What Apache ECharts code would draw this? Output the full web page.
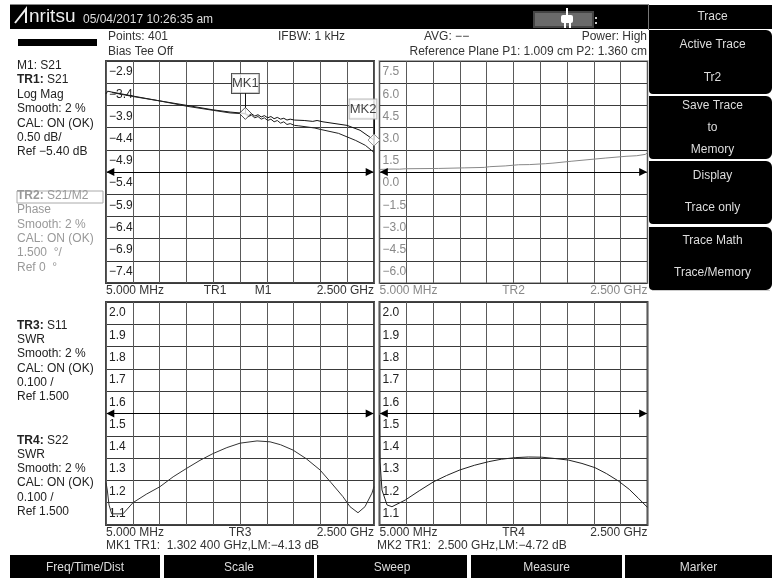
<!DOCTYPE html>
<html>
<head>
<meta charset="utf-8">
<title>Anritsu</title>
<style>
html,body{margin:0;padding:0;background:#fff;}
#chart{width:772px;height:578px;}
</style>
<script src="https://cdn.jsdelivr.net/npm/echarts@6/dist/echarts.min.js"></script>
</head>
<body>
<div id="chart"></div>
<script>
// frequency in GHz
const xTicks=[0.005,0.2545,0.504,0.7535,1.003,1.2525,1.502,1.7515,2.001,2.2505,2.5];

const yTicksTr1=[-2.9,-3.4,-3.9,-4.4,-4.9,-5.4,-5.9,-6.4,-6.9,-7.4,-7.9];
const yTicksTr2=[7.5,6,4.5,3,1.5,0,-1.5,-3,-4.5,-6,-7.5];
const yTicksSwr=[2,1.9,1.8,1.7,1.6,1.5,1.4,1.3,1.2,1.1,1];

const tr1Upper=[[0.005,-3.64],[0.02,-3.58],[0.06,-3.6],[0.256,-3.69],[0.508,-3.8],[0.759,-3.9],[1,-4],[1.16,-4.05],[1.3,-4.08],
    [1.33,-4.12],[1.36,-4.09],[1.39,-4.14],[1.42,-4.11],[1.45,-4.16],[1.48,-4.13],[1.51,-4.18],[1.54,-4.15],[1.57,-4.2],[1.6,-4.17],
    [1.63,-4.21],[1.66,-4.19],[1.69,-4.23],[1.72,-4.21],[1.76,-4.23],[1.85,-4.24],[1.93,-4.26],[1.97,-4.24],[2.025,-4.27],[2.249,-4.35],
    [2.37,-4.46],[2.5,-4.68]];
const tr1Lower=[[0.06,-3.61],[0.256,-3.7],[0.508,-3.8],[0.759,-3.92],[1,-4.01],[1.16,-4.07],[1.3,-4.09],
    [1.33,-4.15],[1.36,-4.12],[1.39,-4.18],[1.42,-4.15],[1.45,-4.21],[1.48,-4.18],[1.51,-4.24],[1.54,-4.21],[1.57,-4.27],[1.6,-4.24],
    [1.63,-4.3],[1.66,-4.27],[1.69,-4.33],[1.72,-4.31],[1.76,-4.35],[1.8,-4.36],[1.95,-4.41],[2,-4.44],[2.17,-4.53],[2.33,-4.69],
    [2.42,-4.8],[2.5,-4.96]];
const tr2Trace=[[0.005,0.17],[0.1,0.2],[0.19,0.19],[0.25,0.22],[0.556,0.24],[0.8,0.28],[0.98,0.31],[1.03,0.36],[1.175,0.41],[1.3,0.49],
    [1.4,0.5],[1.548,0.56],[1.62,0.6],[1.796,0.73],[2.106,0.94],[2.3,1.06],[2.4,1.1],[2.48,1.19],[2.5,1.3]];
const tr3Trace=[[0.005,1.19],[0.017,1.157],[0.033,1.09],[0.058,1.05],[0.163,1.05],[0.256,1.1],[0.38,1.138],[0.508,1.172],[0.63,1.216],[0.759,1.255],[0.88,1.29],[1,1.32],[1.13,1.347],[1.253,1.367],
    [1.411,1.377],[1.532,1.373],[1.63,1.36],[1.746,1.336],[1.87,1.297],[1.997,1.247],[2.1,1.19],[2.211,1.127],[2.277,1.082],[2.351,1.055],[2.416,1.082],[2.481,1.143],[2.5,1.172]];
const tr4Trace=[[0.005,1.493],[0.01,1.283],[0.028,1.157],[0.075,1.09],[0.121,1.082],[0.245,1.112],[0.38,1.155],[0.509,1.194],[0.63,1.222],[0.754,1.247],[0.89,1.268],[1.021,1.284],[1.14,1.295],[1.268,1.302],
    [1.39,1.305],[1.516,1.304],[1.64,1.298],[1.765,1.291],[1.89,1.276],[2.012,1.257],[2.12,1.23],[2.23,1.197],[2.33,1.16],[2.415,1.12],[2.5,1.079]];

const mk1Point=[1.3024,-4.08];
const mk2Point=[2.5,-4.68];
const mk1BoxBottom=-3.62;
const mk2BoxBottom=-4.19;
// the reference arrows sit just inside the plot
const arrowLeft=0.045;
const arrowRight=2.46;

const xLabelsTr1={0.005:'5.000 MHz',1.02:'TR1',1.467:'M1',2.5:'2.500 GHz'};
const xLabelsTr2={0.005:'5.000 MHz',1.2525:'TR2',2.5:'2.500 GHz'};
const xLabelsTr3={0.005:'5.000 MHz',1.2525:'TR3',2.5:'2.500 GHz'};
const xLabelsTr4={0.005:'5.000 MHz',1.2525:'TR4',2.5:'2.500 GHz'};

const linesTr1=['M1: S21','{b|TR1:} S21','Log Mag','Smooth: 2 %','CAL: ON (OK)','0.50 dB/','Ref −5.40 dB'];
const linesTr2=['{b|TR2:} S21/M2','Phase','Smooth: 2 %','CAL: ON (OK)','1.500  °/','Ref 0  °'];
const linesTr3=['{b|TR3:} S11','SWR','Smooth: 2 %','CAL: ON (OK)','0.100 /','Ref 1.500'];
const linesTr4=['{b|TR4:} S22','SWR','Smooth: 2 %','CAL: ON (OK)','0.100 /','Ref 1.500'];

const softKeys=[
    {y:30,h:64,lines:[['Active Trace',45],['Tr2',78]]},
    {y:96,h:63,lines:[['Save Trace',106],['to',128],['Memory',150]]},
    {y:161,h:63,lines:[['Display',176],['Trace only',208]]},
    {y:227,h:63,lines:[['Trace Math',241],['Trace/Memory',273]]}
];
const bottomKeys=[['Freq/Time/Dist',10,150],['Scale',164,150],['Sweep',317,150],['Measure',471,151],['Marker',625,147]];

const FONT='"Liberation Sans",Arial,sans-serif';

function txt(text,x,y,color,opt){
    return {
        type:'text',
        silent:true,
        style:Object.assign({
            text:text,x:x,y:y,fill:color,font:'12px '+FONT,
            verticalAlign:'middle',
            rich:{b:{fontWeight:'bold',fontSize:12,fontFamily:FONT,fill:color}}
        },opt||{})
    };
}
function rect(x,y,w,h,fill,r){
    return {type:'rect',silent:true,shape:{x:x,y:y,width:w,height:h,r:r||0},style:{fill:fill}};
}
function block(lines,ys,color){
    return lines.map((line,i)=>txt(line,17,ys[i],color));
}

const graphicItems=[];
graphicItems.push(rect(10,4,638,1,'#888'));
graphicItems.push(rect(10,5,638,24,'#000'));
graphicItems.push(rect(649,5,123,24,'#000'));
graphicItems.push(rect(648,4,1,26,'#777'));
// logo
graphicItems.push({type:'polyline',silent:true,shape:{points:[[15,23],[26,9],[26,23]]},style:{stroke:'#eee',fill:null,lineWidth:2}});
graphicItems.push(txt('nritsu',29,17,'#eee',{font:'19px '+FONT}));
graphicItems.push(txt('05/04/2017 10:26:35 am',83,20,'#ddd'));
// battery + plug
graphicItems.push({type:'rect',silent:true,shape:{x:534,y:12,width:59,height:15},style:{fill:'#6a6a6a',stroke:'#444',lineWidth:2}});
graphicItems.push(rect(566,8,2,8,'#fff'));
graphicItems.push(rect(561,15,12,8,'#fff',2));
graphicItems.push(rect(564,23,2,5,'#fff'));
graphicItems.push(rect(569,23,2,5,'#fff'));
graphicItems.push(rect(595,17,2,2,'#ccc'));
graphicItems.push(rect(595,22,2,2,'#ccc'));
// softkeys
graphicItems.push(txt('Trace',712.5,17,'#ddd',{align:'center'}));
softKeys.forEach(k=>{
    graphicItems.push(rect(649,k.y,123,k.h,'#000',[0,6,6,4]));
    k.lines.forEach(l=>graphicItems.push(txt(l[0],712.5,l[1],'#ddd',{align:'center'})));
});
graphicItems.push(rect(652,290,118,1,'#ccc'));
bottomKeys.forEach(k=>{
    graphicItems.push(rect(k[1],555,k[2],23,'#000'));
    graphicItems.push(txt(k[0],k[1]+k[2]/2,568,'#ddd',{align:'center'}));
});
// left side text
graphicItems.push(rect(18,39,79,7,'#000'));
graphicItems.push({type:'rect',silent:true,shape:{x:17,y:191,width:86,height:12},style:{fill:'#fff',stroke:'#aaa',lineWidth:1}});
graphicItems.push(...block(linesTr1,[66,80,95,109,124,138,152],'#222'));
graphicItems.push(...block(linesTr2,[196,210,225,239,253,268],'#999'));
graphicItems.push(...block(linesTr3,[326,340,354,369,383,397],'#222'));
graphicItems.push(...block(linesTr4,[441,455,469,483,498,512],'#222'));
// header and marker readout
graphicItems.push(txt('Points: 401',108,37,'#333'));
graphicItems.push(txt('Bias Tee Off',108,52,'#333'));
graphicItems.push(txt('IFBW: 1 kHz',278,37,'#333'));
graphicItems.push(txt('AVG: −−',424,37,'#333'));
graphicItems.push(txt('Power: High',647,37,'#333',{align:'right'}));
graphicItems.push(txt('Reference Plane P1: 1.009 cm P2: 1.360 cm',647,52,'#333',{align:'right'}));
graphicItems.push(txt('MK1 TR1:  1.302 400 GHz,LM:−4.13 dB',106,546,'#333'));
graphicItems.push(txt('MK2 TR1:  2.500 GHz,LM:−4.72 dB',377,546,'#333'));

// one panel = one grid, look differs only by colour
const panels=[
    {left:106,top:61,height:222,yTicks:yTicksTr1,ref:-5.4,frame:'#444',labelColor:'#222',xColor:'#333',xLabels:xLabelsTr1,digits:1},
    {left:379.5,top:61,height:222,yTicks:yTicksTr2,ref:0,frame:'#aaa',labelColor:'#888',xColor:'#888',xLabels:xLabelsTr2,digits:1},
    {left:106,top:302,height:223,yTicks:yTicksSwr,ref:1.5,frame:'#444',labelColor:'#222',xColor:'#333',xLabels:xLabelsTr3,digits:1},
    {left:379.5,top:302,height:223,yTicks:yTicksSwr,ref:1.5,frame:'#444',labelColor:'#222',xColor:'#333',xLabels:xLabelsTr4,digits:1}
];

const grid=panels.map(p=>({
    left:p.left,top:p.top,width:268,height:p.height,
    show:true,backgroundColor:'#fff',borderColor:p.frame,borderWidth:2
}));
const xAxis=panels.map((p,i)=>({
    type:'value',gridIndex:i,min:0.005,max:2.5,
    axisLine:{show:false},
    axisTick:{show:false,customValues:xTicks},
    splitLine:{show:true,lineStyle:{color:'#5a5a5a',width:1}},
    axisLabel:{
        customValues:Object.keys(p.xLabels).map(Number),
        formatter:v=>p.xLabels[v]||'',
        color:p.xColor,fontSize:12,fontFamily:FONT,margin:2,
        alignMinLabel:'left',alignMaxLabel:'right'
    }
}));
const yAxis=panels.map((p,i)=>{
    const min=p.yTicks[p.yTicks.length-1],max=p.yTicks[0];
    return {
        type:'value',gridIndex:i,min:min,max:max,
        axisLine:{show:false},
        axisTick:{show:false,customValues:p.yTicks},
        splitLine:{show:true,lineStyle:{color:'#3a3a3a',width:1}},
        axisLabel:{
            inside:true,margin:3,
            customValues:p.yTicks.slice(0,10),
            formatter:v=>v.toFixed(p.digits).replace('-','−'),
            color:p.labelColor,fontSize:12,fontFamily:FONT,
            verticalAlign:'top',padding:[5,0,0,0],
            showMinLabel:true,showMaxLabel:true
        }
    };
});

function refLine(value){
    return {
        silent:true,animation:false,
        symbol:['triangle','triangle'],symbolSize:8,
        label:{show:false},
        lineStyle:{color:'#000',width:1,type:'solid'},
        data:[[{coord:[arrowLeft,value]},{coord:[arrowRight,value]}]]
    };
}
function trace(name,i,data,color,extra){
    return Object.assign({
        name:name,type:'line',xAxisIndex:i,yAxisIndex:i,data:data,
        showSymbol:false,silent:true,
        lineStyle:{color:color,width:1}
    },extra||{});
}
function marker(name,point,boxBottom,boxColor,offset,distance){
    return {
        name:name,type:'scatter',xAxisIndex:0,yAxisIndex:0,clip:false,z:5,silent:true,
        data:[point],
        symbol:'diamond',symbolSize:12,
        itemStyle:{color:'#fff',borderColor:name==='MK1'?'#222':'#777',borderWidth:1},
        label:{
            show:true,formatter:name,position:'top',distance:distance,offset:offset,
            color:'#111',fontSize:13,fontFamily:FONT,
            backgroundColor:'#fff',borderColor:boxColor,borderWidth:1,padding:[3,0,3,0]
        },
        markLine:{
            silent:true,animation:false,symbol:'none',label:{show:false},
            lineStyle:{color:'#111',width:1,type:'solid'},
            data:[[{coord:point},{coord:[point[0],boxBottom]}]]
        }
    };
}

const series=[
    trace('TR1',0,tr1Upper,'#111',{markLine:refLine(panels[0].ref)}),
    trace('M1',0,tr1Lower,'#222'),
    marker('MK1',mk1Point,mk1BoxBottom,'#222',[0,0],14),
    marker('MK2',mk2Point,mk2BoxBottom,'#aaa',[-11,0],15),
    trace('TR2',1,tr2Trace,'#888',{markLine:refLine(panels[1].ref)}),
    trace('TR3',2,tr3Trace,'#333',{markLine:refLine(panels[2].ref)}),
    trace('TR4',3,tr4Trace,'#222',{markLine:refLine(panels[3].ref)})
];

const chart=echarts.init(document.getElementById('chart'),null,{renderer:'canvas',width:772,height:578});
chart.setOption({
    animation:false,
    backgroundColor:'#fff',
    graphic:{elements:graphicItems},
    grid:grid,
    xAxis:xAxis,
    yAxis:yAxis,
    series:series
});
</script>
</body>
</html>
